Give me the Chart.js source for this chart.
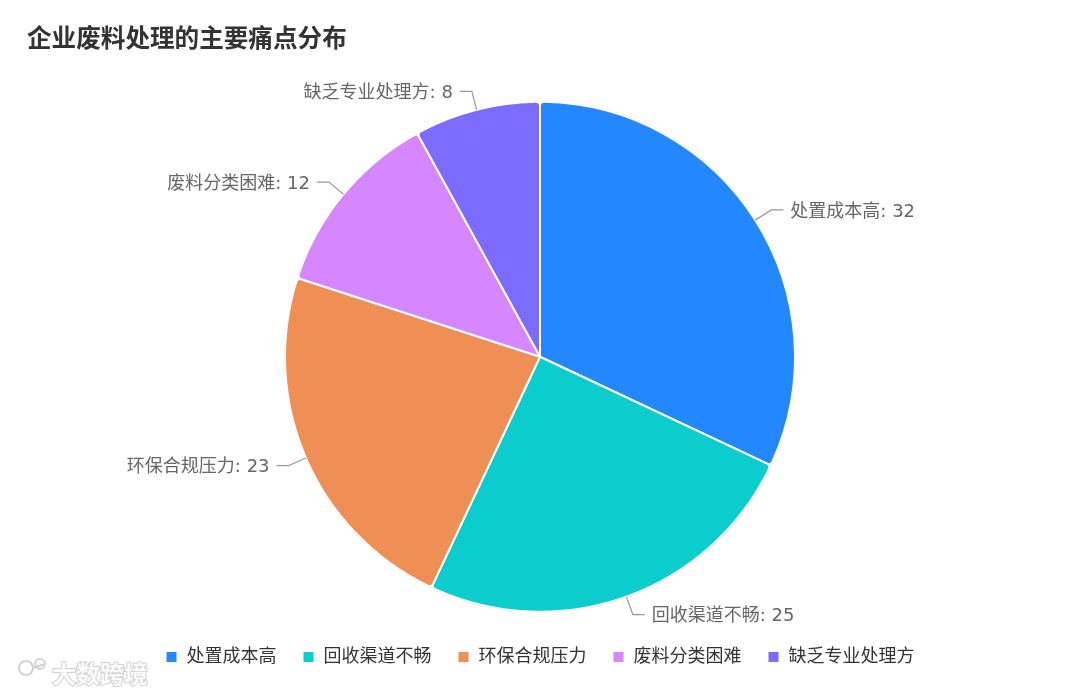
<!DOCTYPE html>
<html>
<head>
<meta charset="utf-8">
<script src="https://cdn.jsdelivr.net/npm/chart.js@4/dist/chart.umd.min.js"></script>
<style>
  html, body { margin: 0; padding: 0; background: #fff; }
  #wrap { width: 1080px; height: 694px; }
</style>
</head>
<body>
<div id="wrap"><canvas id="painChart"></canvas></div>
<script>
const titleText = '企业废料处理的主要痛点分布';
const categories = ['处置成本高', '回收渠道不畅', '环保合规压力', '废料分类困难', '缺乏专业处理方'];
const values = [32, 25, 23, 12, 8];
const colors = ['#2388FF', '#0BCDCD', '#EF8F55', '#D686FF', '#7C6BFF'];

const fontFamily = '"Noto Sans", "Noto Sans CJK SC", sans-serif';
const labelFamily = '"DejaVu Sans", "Noto Sans CJK SC", sans-serif';

// outside labels with a bent leader line
const outsideLabels = {
    id: 'outsideLabels',
    afterDatasetsDraw(chart) {
        const ctx = chart.ctx;
        const meta = chart.getDatasetMeta(0);
        ctx.save();
        ctx.font = '18px ' + labelFamily;
        ctx.textBaseline = 'middle';
        meta.data.forEach((arc, i) => {
            const p = arc.getProps(['x', 'y', 'startAngle', 'endAngle', 'outerRadius'], true);
            const mid = (p.startAngle + p.endAngle) / 2;
            const cos = Math.cos(mid), sin = Math.sin(mid);
            const x0 = p.x + cos * p.outerRadius;
            const y0 = p.y + sin * p.outerRadius;
            const x1 = p.x + cos * (p.outerRadius + 19);
            const y1 = p.y + sin * (p.outerRadius + 19);
            const right = cos >= 0;
            const x2 = x1 + (right ? 12 : -12);
            ctx.strokeStyle = '#999';
            ctx.lineWidth = 1.2;
            ctx.beginPath();
            ctx.moveTo(x0, y0);
            ctx.lineTo(x1, y1);
            ctx.lineTo(x2, y1);
            ctx.stroke();
            ctx.fillStyle = '#666';
            ctx.textAlign = right ? 'left' : 'right';
            ctx.fillText(chart.data.labels[i] + ': ' + values[i], x2 + (right ? 7 : -7), y1 + 2);
        });
        ctx.restore();
    },
    afterDraw(chart) {
        // faint watermark bottom-left
        const ctx = chart.ctx;
        ctx.save();
        ctx.font = 'bold 24px "Noto Sans CJK SC", sans-serif';
        ctx.textBaseline = 'middle';
        ctx.textAlign = 'left';
        ctx.lineWidth = 2;
        ctx.strokeStyle = 'rgba(180,180,180,0.6)';
        ctx.fillStyle = 'rgba(255,255,255,0.9)';
        ctx.strokeText('大数跨境', 52, 674);
        ctx.fillText('大数跨境', 52, 674);
        ctx.beginPath();
        ctx.arc(26, 668, 7, 0, Math.PI * 2);
        ctx.arc(40, 664, 5, 0, Math.PI * 2);
        ctx.stroke();
        ctx.restore();
    }
};

new Chart(document.getElementById('painChart').getContext('2d'), {
    type: 'pie',
    data: {
        labels: categories,
        datasets: [{
            data: values,
            backgroundColor: colors,
            borderColor: '#fff',
            borderWidth: 2,
            borderRadius: 4,
            radius: 255
        }]
    },
    options: {
        responsive: true,
        maintainAspectRatio: false,
        animation: false,
        layout: { padding: { left: 27, right: 27, top: 0, bottom: 18 } },
        plugins: {
            title: {
                display: true,
                text: titleText,
                align: 'start',
                color: '#333',
                font: { family: fontFamily, size: 24.6, weight: 'bold' },
                padding: { top: 25, bottom: 37 }
            },
            legend: {
                position: 'bottom',
                labels: {
                    color: '#333',
                    boxWidth: 12,
                    boxHeight: 12,
                    padding: 26,
                    font: { family: fontFamily, size: 18 }
                }
            },
            tooltip: { enabled: false }
        }
    },
    plugins: [outsideLabels]
});
</script>
</body>
</html>
